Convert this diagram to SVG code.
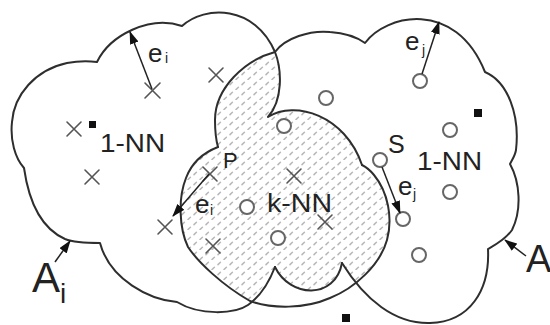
<svg xmlns="http://www.w3.org/2000/svg" width="550" height="325" viewBox="0 0 550 325">
<style>
.edge{fill:none;stroke:#2e2e2e;stroke-width:2;stroke-linejoin:round;stroke-linecap:round}
.xm{fill:none;stroke:#555;stroke-width:1.6;stroke-linecap:round}
.om{fill:#fff;stroke:#666;stroke-width:2}
.sq{fill:#111}
.arr{fill:none;stroke:#222;stroke-width:1.5;marker-end:url(#ah)}
.t{font-family:"Liberation Sans",Arial,sans-serif;fill:#222}
</style>
<defs>
<pattern id="hatch" patternUnits="userSpaceOnUse" width="12" height="10">
<path d="M2,4.6 L4.4,2.2 M8,9.6 L10.4,7.2" stroke="#b8b8b8" stroke-width="1.5" stroke-linecap="round"/>
</pattern>
<marker id="ah" markerUnits="userSpaceOnUse" markerWidth="13" markerHeight="9" refX="12" refY="4.5" orient="auto">
<path d="M0,0 L13,4.5 L0,9 Z" fill="#111"/>
</marker>
</defs>
<rect width="550" height="325" fill="#fff"/>

<g id="knn-region">
<path fill="url(#hatch)" stroke="none" d="M275,52 C245,60 215,88 215,120 C215,130 216,140 218,147 C205,152 192,162 186,178 C178,198 179,228 188,247 C198,262 222,285 250,301 C258,293 268,282 275,267 C290,298 335,300 342,263 L349,274 L356,283 C372,270 384,258 387,240 C393,218 388,192 374,175 C370,170 366,167 362,165 C345,115 295,100 268,117 C283,100 282,70 275,52 Z"/>
<path class="edge" d="M275,52 C245,60 215,88 215,120 C215,130 216,140 218,147"/>
<path class="edge" d="M218,147 C205,152 192,162 186,178 C178,198 179,228 188,247 C198,262 222,285 250,301 C272,309 305,309 330,298 C355,288 380,265 387,240 C393,218 388,192 374,175 C370,170 366,167 362,165"/>
<path class="edge" d="M342,263 C335,300 290,298 275,267"/>
</g>

<g id="cloud-left">
<path class="edge" d="M275,267 C268,285 258,298 248,305 C235,314 200,316 177,302 C150,300 110,280 100,243 C88,243 75,243 65,239 C45,230 30,210 24,168 C15,158 10,140 12,122 C14,95 35,70 67,63 C78,61 88,61 97,62 C110,35 150,15 182,26 C205,5 255,5 275,52 C282,70 283,100 268,117 C295,100 345,115 362,165"/>
</g>

<g id="cloud-right">
<path class="edge" d="M275,52 C285,38 310,30 330,32 C345,33 358,38 365,43 C385,15 455,-2 485,72 C508,82 520,115 516,150 C515,156 512,160 510,164 C520,182 522,210 512,230 C505,240 495,245 488,249 C490,290 470,322 430,323 C395,324 365,300 342,263"/>
</g>

<g id="points-x">
<path class="xm" d="M145,83 L160,98 M160,83 L145,98"/>
<path class="xm" d="M209,68 L223,82 M223,68 L209,82"/>
<path class="xm" d="M67,122 L81,136 M81,122 L67,136"/>
<path class="xm" d="M85,170 L99,184 M99,170 L85,184"/>
<path class="xm" d="M203,167 L217,181 M217,167 L203,181"/>
<path class="xm" d="M158,220 L172,234 M172,220 L158,234"/>
<path class="xm" d="M206,239 L220,253 M220,239 L206,253"/>
<path class="xm" d="M287,169 L301,183 M301,169 L287,183"/>
<path class="xm" d="M318,215 L332,229 M332,215 L318,229"/>
</g>

<g id="points-o">
<circle class="om" cx="420" cy="81" r="7"/>
<circle class="om" cx="326" cy="98" r="7"/>
<circle class="om" cx="284" cy="126" r="7"/>
<circle class="om" cx="450" cy="130" r="7"/>
<circle class="om" cx="380" cy="160" r="7"/>
<circle class="om" cx="450" cy="192" r="7"/>
<circle class="om" cx="403" cy="219" r="7"/>
<circle class="om" cx="419" cy="255" r="7"/>
<circle class="om" cx="247" cy="207" r="7"/>
<circle class="om" cx="278" cy="238" r="7"/>
</g>

<g id="centers">
<rect class="sq" x="89" y="121" width="7" height="7"/>
<rect class="sq" x="474" y="109" width="8" height="8"/>
<rect class="sq" x="342" y="314" width="8" height="8"/>
</g>

<g id="connectors">
<line class="arr" x1="152" y1="89" x2="130" y2="32"/>
<line class="arr" x1="422" y1="74" x2="439" y2="22"/>
<line class="arr" x1="382" y1="167" x2="400" y2="213"/>
<line class="arr" x1="209" y1="174" x2="173" y2="216"/>
<line class="arr" x1="55" y1="262" x2="70" y2="241"/>
<line class="arr" x1="526" y1="256" x2="505" y2="240"/>
</g>

<g id="labels">
<text class="t" x="148" y="62" font-size="26">e</text>
<text class="t" x="165" y="63" font-size="14">i</text>
<text class="t" x="405" y="50" font-size="26">e</text>
<text class="t" x="422" y="55" font-size="14">j</text>
<text class="t" x="398" y="195" font-size="26">e</text>
<text class="t" x="413" y="199" font-size="14">j</text>
<text class="t" x="195" y="213" font-size="26">e</text>
<text class="t" x="210" y="215" font-size="14">i</text>
<text class="t" x="100" y="152" font-size="25" textLength="65" lengthAdjust="spacingAndGlyphs">1-NN</text>
<text class="t" x="417" y="170" font-size="25" textLength="65" lengthAdjust="spacingAndGlyphs">1-NN</text>
<text class="t" x="267" y="212" font-size="25" textLength="65" lengthAdjust="spacingAndGlyphs">k-NN</text>
<text class="t" x="223" y="168" font-size="22">P</text>
<text class="t" x="388" y="153" font-size="25">S</text>
<text class="t" x="32" y="292" font-size="42">A</text>
<text class="t" x="60" y="303" font-size="28">i</text>
<text class="t" x="526" y="272" font-size="38">A</text>
</g>
</svg>
